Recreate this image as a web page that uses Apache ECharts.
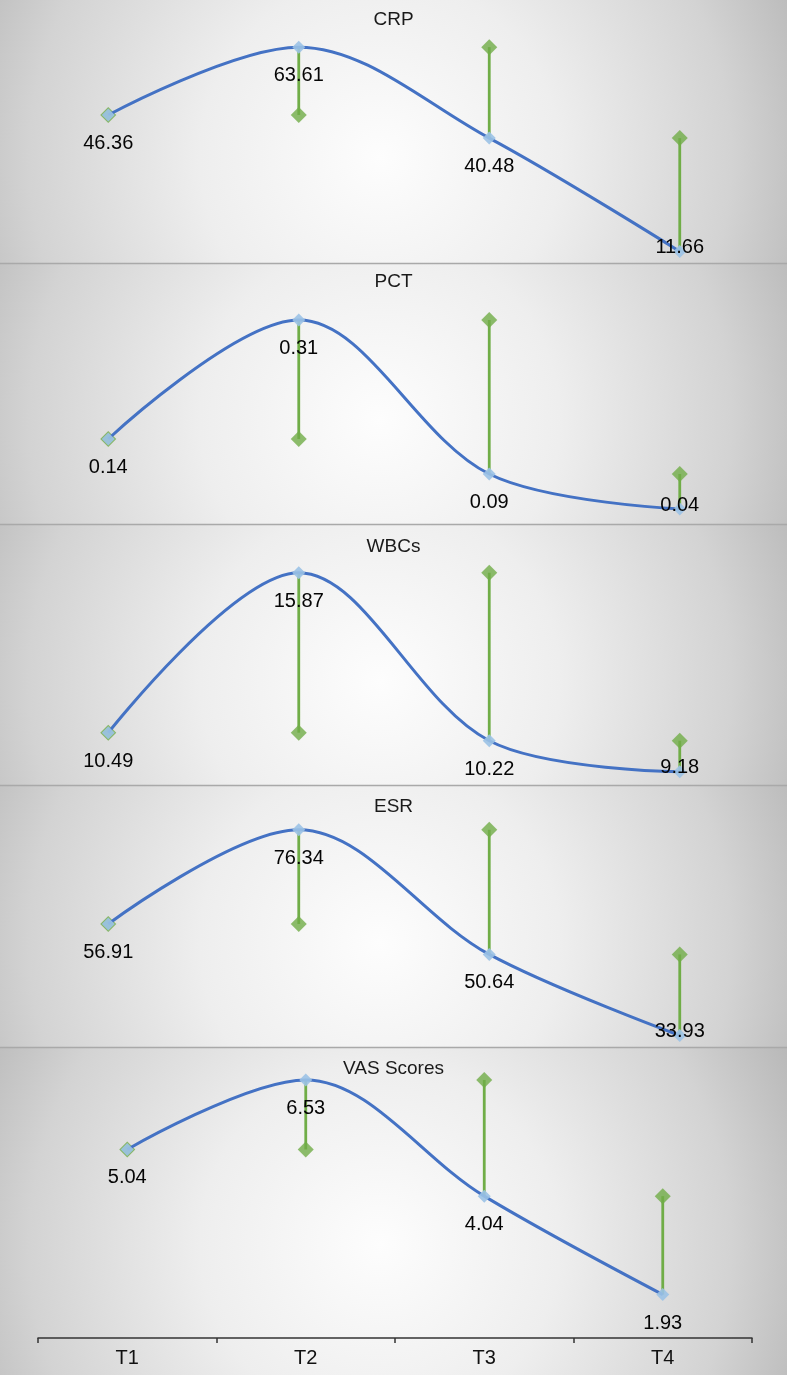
<!DOCTYPE html>
<html>
<head>
<meta charset="utf-8">
<script src="https://cdn.jsdelivr.net/npm/echarts@6/dist/echarts.min.js"></script>
<style>
  html, body { margin: 0; padding: 0; background: #ffffff; }
  #main { width: 787px; height: 1375px; }
</style>
</head>
<body>
<div id="main"></div>
<script>
// time points
const categories = ['T1', 'T2', 'T3', 'T4'];
const titles = ['CRP', 'PCT', 'WBCs', 'ESR', 'VAS Scores'];

// mean value at each time point (blue curve)
const crp = [46.36, 63.61, 40.48, 11.66];
const pct = [0.14, 0.31, 0.09, 0.04];
const wbc = [10.49, 15.87, 10.22, 9.18];
const esr = [56.91, 76.34, 50.64, 33.93];
const vas = [5.04, 6.53, 4.04, 1.93];

// green markers: value of the previous time point
const crpPrev = [46.36, 46.36, 63.61, 40.48];
const pctPrev = [0.14, 0.14, 0.31, 0.09];
const wbcPrev = [10.49, 10.49, 15.87, 10.22];
const esrPrev = [56.91, 56.91, 76.34, 50.64];
const vasPrev = [5.04, 5.04, 6.53, 4.04];

const values = [crp, pct, wbc, esr, vas];
const prevValues = [crpPrev, pctPrev, wbcPrev, esrPrev, vasPrev];

// panel layout (pixels) and value ranges
const panels = [
  { y0: 0,    y1: 263,  gridTop: 22,   gridH: 236, min: 10,   max: 70,   left: 13, right: 12, titleMid: 18 },
  { y0: 264,  y1: 524,  gridTop: 292,  gridH: 224, min: 0.03, max: 0.35, left: 13, right: 12, titleMid: 280 },
  { y0: 525,  y1: 785,  gridTop: 554,  gridH: 223, min: 9,    max: 16.5, left: 13, right: 12, titleMid: 545 },
  { y0: 786,  y1: 1047, gridTop: 812,  gridH: 228, min: 33,   max: 80,   left: 13, right: 12, titleMid: 805 },
  { y0: 1048, y1: 1375, gridTop: 1058, gridH: 280, min: 1,    max: 7,    left: 38, right: 35, titleMid: 1067 }
];

const W = 787;
const FONT = '"Liberation Sans", Arial, sans-serif';

const chart = echarts.init(document.getElementById('main'), null, { renderer: 'canvas' });

const graphics = [];
panels.forEach(function (p) {
  const h = p.y1 - p.y0;
  graphics.push({
    type: 'rect',
    z: -10,
    shape: { x: 0, y: p.y0, width: W, height: h },
    style: {
      fill: new echarts.graphic.RadialGradient(380, p.y0 + h * 0.6, 450, [
        { offset: 0, color: '#fdfdfd' },
        { offset: 0.4, color: '#eeeeee' },
        { offset: 0.78, color: '#d3d3d3' },
        { offset: 1, color: '#b9b9b9' }
      ], true)
    }
  });
  if (p.y0 > 0) {
    graphics.push({
      type: 'line',
      z: -9,
      shape: { x1: 0, y1: p.y0 - 0.5, x2: W, y2: p.y0 - 0.5 },
      style: { stroke: '#a9a9a9', lineWidth: 1.5 }
    });
  }
});

const grid = [], xAxis = [], yAxis = [], title = [], series = [];

panels.forEach(function (p, i) {
  const last = i === panels.length - 1;
  grid.push({ left: p.left, right: p.right, top: p.gridTop, height: p.gridH });
  title.push({
    text: titles[i],
    left: 'center',
    top: p.titleMid - 8,
    padding: 0,
    textStyle: { fontFamily: FONT, fontSize: 19, fontWeight: 'normal', color: '#1a1a1a', lineHeight: 20 }
  });
  xAxis.push({
    type: 'category',
    gridIndex: i,
    data: categories,
    boundaryGap: true,
    show: last,
    axisLine: { show: true, lineStyle: { color: '#333333', width: 1.5 } },
    axisTick: { show: true, length: 5, lineStyle: { color: '#333333', width: 1.5 } },
    axisLabel: { fontFamily: FONT, fontSize: 20, color: '#111111', margin: 10 },
    splitLine: { show: false }
  });
  yAxis.push({
    type: 'value',
    gridIndex: i,
    min: p.min,
    max: p.max,
    show: false,
    splitLine: { show: false }
  });

  const cur = values[i];
  const prev = prevValues[i];

  // green high-low lines between previous and current value
  series.push({
    type: 'custom',
    xAxisIndex: i,
    yAxisIndex: i,
    z: 1,
    silent: true,
    data: cur.map(function (v, k) { return [k, prev[k], v]; }),
    renderItem: function (params, api) {
      const a = api.coord([api.value(0), api.value(1)]);
      const b = api.coord([api.value(0), api.value(2)]);
      return {
        type: 'line',
        shape: { x1: a[0], y1: a[1], x2: b[0], y2: b[1] },
        style: { stroke: '#70AD47', lineWidth: 2.8 }
      };
    }
  });

  // green markers at previous value
  series.push({
    type: 'scatter',
    xAxisIndex: i,
    yAxisIndex: i,
    z: 2,
    symbol: 'diamond',
    symbolSize: 16,
    itemStyle: { color: '#70AD47' },
    data: prev
  });

  // blue smoothed mean line
  const bottom = p.y1;
  series.push({
    type: 'line',
    xAxisIndex: i,
    yAxisIndex: i,
    z: 3,
    smooth: 0.34,
    clip: false,
    symbol: 'diamond',
    symbolSize: 13,
    showAllSymbol: true,
    lineStyle: { color: '#4472C4', width: 3 },
    itemStyle: { color: 'rgba(155,194,230,0.9)' },
    label: {
      show: true,
      position: 'bottom',
      distance: 12,
      fontFamily: FONT,
      fontSize: 20,
      color: '#050505'
    },
    labelLayout: function (params) {
      const r = params.labelRect;
      if (r.y + r.height > bottom - 2) {
        return {
          x: params.rect.x + params.rect.width / 2,
          y: params.rect.y + params.rect.height / 2 - 4,
          align: 'center',
          verticalAlign: 'middle'
        };
      }
      return {};
    },
    data: cur
  });
});

chart.setOption({
  animation: false,
  backgroundColor: '#ffffff',
  graphic: graphics,
  title: title,
  grid: grid,
  xAxis: xAxis,
  yAxis: yAxis,
  series: series
});
</script>
</body>
</html>
